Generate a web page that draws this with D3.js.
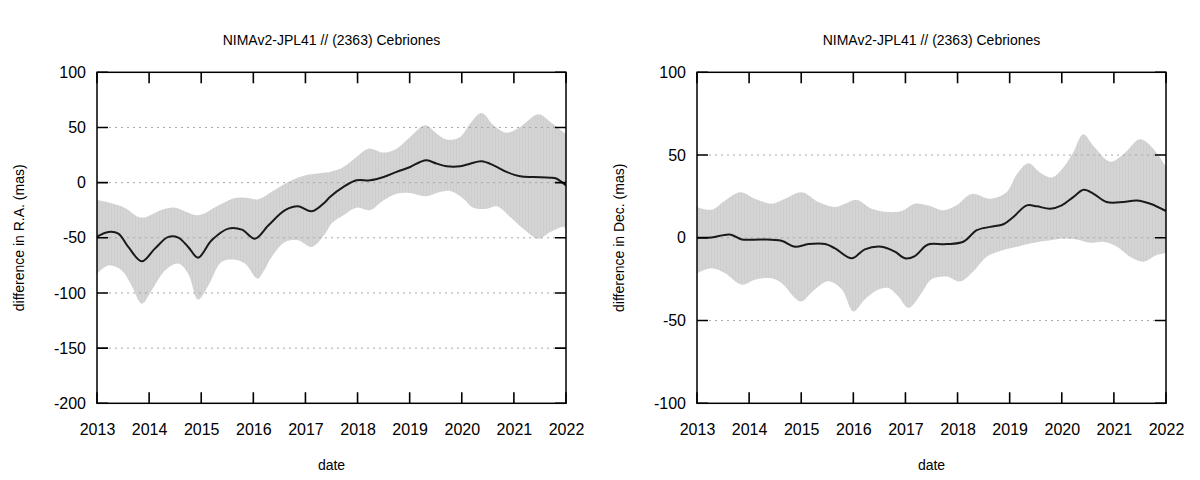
<!DOCTYPE html>
<meta charset="utf-8">
<head>
    <title>NIMAv2-JPL41 // (2363) Cebriones</title>
    <script src="https://d3js.org/d3.v7.min.js"></script>
    <style>
        body { margin: 0; background: #fff; }
        svg text { font-family: "Liberation Sans", Arial, sans-serif; fill: #000; }
    </style>
</head>
<body>
<script>
    // ---- data: [year, mas] ----
    var raCenter = [[2013.0,-49],[2013.22,-44.7],[2013.41,-46.2],[2013.6,-58.3],[2013.86,-71.3],[2014.11,-59.8],
        [2014.37,-49.2],[2014.56,-49.8],[2014.75,-58.3],[2014.94,-68],[2015.2,-52.3],[2015.52,-41.7],[2015.78,-42.6],
        [2016.03,-50.8],[2016.29,-38.7],[2016.61,-25],[2016.86,-21.5],[2017.12,-26],[2017.38,-17.5],[2017.47,-13],
        [2017.73,-3.9],[2017.98,2.1],[2018.24,2.1],[2018.5,5.1],[2018.75,9.7],[2019.01,14.2],[2019.2,18.7],
        [2019.33,20.2],[2019.52,17.2],[2019.71,14.8],[2019.97,14.8],[2020.16,17.2],[2020.38,19.3],[2020.61,15.7],
        [2020.86,9.7],[2021.12,5.7],[2021.38,5.1],[2021.7,4.5],[2021.8,4],[2022.0,-2.5]];
    var raUpper = [[2013.0,-15.5],[2013.5,-22],[2013.85,-31.7],[2014.25,-24.5],[2014.5,-22.7],[2014.94,-29.6],
        [2015.3,-21.5],[2015.6,-14.5],[2015.85,-13.6],[2016.1,-15],[2016.4,-7],[2016.7,1.2],[2017.0,6.6],
        [2017.3,8.8],[2017.47,9.7],[2017.73,14.2],[2017.98,23.3],[2018.21,30.8],[2018.5,27.2],[2018.75,30.8],
        [2019.01,41.4],[2019.3,52],[2019.52,44.4],[2019.71,39],[2019.97,41.4],[2020.16,53.5],[2020.38,63.1],
        [2020.61,52],[2020.86,45.3],[2021.12,50.5],[2021.47,61.9],[2021.7,55],[2021.95,45.9],[2022.0,44.4]];
    var raLower = [[2013.0,-82.5],[2013.22,-75],[2013.47,-79.5],[2013.66,-93],[2013.86,-109.7],[2014.05,-97.6],
        [2014.31,-79.5],[2014.56,-73.4],[2014.75,-82.5],[2014.94,-106],[2015.14,-93],[2015.39,-71.9],
        [2015.65,-69.8],[2015.84,-73.4],[2016.08,-87],[2016.2,-80],[2016.35,-67.4],[2016.61,-53.8],
        [2016.86,-52.3],[2017.12,-58.3],[2017.38,-46.2],[2017.5,-37],[2017.73,-29.6],[2017.98,-22.7],
        [2018.24,-25],[2018.5,-16],[2018.75,-10],[2019.01,-9.4],[2019.3,-12.4],[2019.58,-8.5],[2019.78,-7.6],
        [2020.03,-14.5],[2020.22,-22.7],[2020.48,-23.6],[2020.67,-21.5],[2020.93,-31.1],[2021.18,-41.7],
        [2021.47,-50.8],[2021.7,-44.7],[2021.95,-40],[2022.0,-42]];

    var decCenter = [[2013.0,0],[2013.28,0.2],[2013.63,2],[2013.86,-1],[2014.24,-1],[2014.62,-1.8],[2014.88,-5.4],
        [2015.14,-3.8],[2015.46,-3.8],[2015.65,-6.4],[2015.97,-12.4],[2016.22,-7],[2016.54,-5.4],[2016.8,-8.4],
        [2016.99,-12.4],[2017.18,-11],[2017.38,-5],[2017.47,-3.8],[2017.79,-3.8],[2018.11,-2.4],[2018.37,4.6],
        [2018.63,6.6],[2018.88,8.2],[2019.07,12.6],[2019.33,19.6],[2019.52,19],[2019.78,17.6],[2020.0,19.6],
        [2020.22,24.6],[2020.42,29],[2020.61,26.6],[2020.86,21.6],[2021.18,21.6],[2021.44,22.6],[2021.7,20.6],
        [2022.0,16.2]];
    var decUpper = [[2013.0,18.6],[2013.28,17],[2013.54,22.6],[2013.83,27.5],[2014.11,23.6],[2014.43,20.6],
        [2014.69,23.6],[2015.01,27.5],[2015.33,21.6],[2015.65,18.6],[2015.84,20.6],[2016.06,23],[2016.35,17.6],
        [2016.67,15.6],[2016.93,16.2],[2017.18,20.6],[2017.44,19.5],[2017.73,16.6],[2017.98,19.6],[2018.27,26.5],
        [2018.63,23.6],[2018.94,27.5],[2019.14,38.5],[2019.36,45],[2019.58,39.5],[2019.81,36.5],[2020.03,42.5],
        [2020.22,51.5],[2020.41,62.5],[2020.62,55],[2020.93,46],[2021.2,51],[2021.5,59.5],[2021.75,54],[2022.0,43]];
    var decLower = [[2013.0,-21.4],[2013.28,-18.4],[2013.54,-21.4],[2013.86,-28.3],[2014.11,-25.3],[2014.43,-24.4],
        [2014.62,-27.3],[2014.88,-36.3],[2015.0,-38.5],[2015.26,-31.3],[2015.52,-26.3],[2015.78,-31.3],
        [2016.0,-44.5],[2016.22,-37.3],[2016.48,-31.3],[2016.67,-30.3],[2016.86,-35.3],[2017.06,-42.3],
        [2017.31,-33.3],[2017.5,-25],[2017.79,-23.4],[2018.05,-26.4],[2018.3,-20.4],[2018.56,-11.4],
        [2018.88,-7.4],[2019.14,-5.4],[2019.39,-3.4],[2019.71,-1.8],[2020.03,-0.4],[2020.29,-1],[2020.54,-3],
        [2020.8,-2.4],[2021.06,-5.4],[2021.31,-11.4],[2021.57,-14.4],[2021.82,-10.4],[2022.0,-9.4]];

    var yearTicks = [2013, 2014, 2015, 2016, 2017, 2018, 2019, 2020, 2021, 2022];
    var raTicks = [100, 50, 0, -50, -100, -150, -200];
    var decTicks = [100, 50, 0, -50, -100];
    var title = "NIMAv2-JPL41 // (2363) Cebriones";

    var svg = d3.select("body").append("svg")
        .attr("width", 1200)
        .attr("height", 480);

    // faint vertical striation like the many overplotted error bars
    var pat = svg.append("defs").append("pattern")
        .attr("id", "stripes").attr("patternUnits", "userSpaceOnUse")
        .attr("width", 3).attr("height", 10);
    pat.append("rect").attr("width", 3).attr("height", 10).attr("fill", "#d4d4d4");
    pat.append("rect").attr("width", 1).attr("height", 10).attr("fill", "#cecece");

    function drawPanel(opt) {
        var x0 = opt.left, x1 = opt.left + 469, y0 = 72.3, y1 = 403.3;
        var x = d3.scaleLinear().domain([2013, 2022]).range([x0, x1]);
        var y = d3.scaleLinear().domain(opt.ydomain).range([y1, y0]);
        var g = svg.append("g");

        var clipId = "clip" + opt.left;
        svg.append("clipPath").attr("id", clipId)
            .append("rect").attr("x", x0).attr("y", y0)
            .attr("width", x1 - x0).attr("height", y1 - y0);

        // band between upper and lower envelopes
        var line = d3.line().x(d => x(d[0])).y(d => y(d[1])).curve(d3.curveCatmullRom);
        var lowerRev = opt.lower.slice().reverse();
        g.append("path")
            .attr("clip-path", "url(#" + clipId + ")")
            .attr("d", line(opt.upper) + line(lowerRev).replace(/^M/, "L") + "Z")
            .attr("fill", "url(#stripes)");

        // dotted grid
        g.selectAll(".grid").data(opt.yticks.filter(v => v != opt.ydomain[0] && v != opt.ydomain[1]))
            .enter().append("line")
            .attr("x1", x0).attr("x2", x1)
            .attr("y1", d => y(d)).attr("y2", d => y(d))
            .attr("stroke", "#a8a8a8").attr("stroke-width", 1)
            .attr("stroke-dasharray", "2,4");

        // center line
        g.append("path")
            .attr("clip-path", "url(#" + clipId + ")")
            .attr("d", line(opt.center))
            .attr("fill", "none")
            .attr("stroke", "#1a1a1a")
            .attr("stroke-width", 2);

        // tick labels through the axis generators
        g.append("g").attr("transform", "translate(0," + y1 + ")")
            .call(d3.axisBottom(x).tickValues(yearTicks).tickFormat(d => String(d)).tickSize(0).tickPadding(20));
        g.append("g").attr("transform", "translate(" + x0 + ",0)")
            .call(d3.axisLeft(y).tickValues(opt.yticks).tickFormat(d => String(d)).tickSize(0).tickPadding(11));
        g.selectAll(".domain").remove();
        g.selectAll(".tick text").style("font-size", "16px").attr("fill", "#000");

        // tick marks, inward on all four sides, as one path
        var tl = 11, p = d3.path();
        yearTicks.forEach(function(t) {
            p.moveTo(x(t), y1); p.lineTo(x(t), y1 - tl);
            p.moveTo(x(t), y0); p.lineTo(x(t), y0 + tl);
        });
        opt.yticks.forEach(function(v) {
            p.moveTo(x0, y(v)); p.lineTo(x0 + tl, y(v));
            p.moveTo(x1, y(v)); p.lineTo(x1 - tl, y(v));
        });
        svg.append("path")
            .attr("d", p.toString())
            .attr("fill", "none")
            .attr("stroke", "#000")
            .attr("stroke-width", 1.6);

        svg.append("rect")
            .attr("x", x0).attr("y", y0)
            .attr("width", x1 - x0).attr("height", y1 - y0)
            .attr("fill", "none").attr("stroke", "#000").attr("stroke-width", 1.5);

        svg.append("text")
            .attr("x", (x0 + x1) / 2).attr("y", 45)
            .attr("text-anchor", "middle")
            .style("font-size", "14px")
            .text(title);
        svg.append("text")
            .attr("x", (x0 + x1) / 2).attr("y", 470)
            .attr("text-anchor", "middle")
            .style("font-size", "14px")
            .text("date");
        svg.append("text")
            .attr("transform", "translate(" + (x0 - 73) + "," + ((y0 + y1) / 2) + ") rotate(-90)")
            .attr("text-anchor", "middle")
            .style("font-size", "14px")
            .text(opt.ylabel);
    }

    drawPanel({ left: 97, ydomain: [-200, 100], yticks: raTicks,
        center: raCenter, upper: raUpper, lower: raLower, ylabel: "difference in R.A. (mas)" });
    drawPanel({ left: 697, ydomain: [-100, 100], yticks: decTicks,
        center: decCenter, upper: decUpper, lower: decLower, ylabel: "difference in Dec. (mas)" });
</script>
</body>
</html>
